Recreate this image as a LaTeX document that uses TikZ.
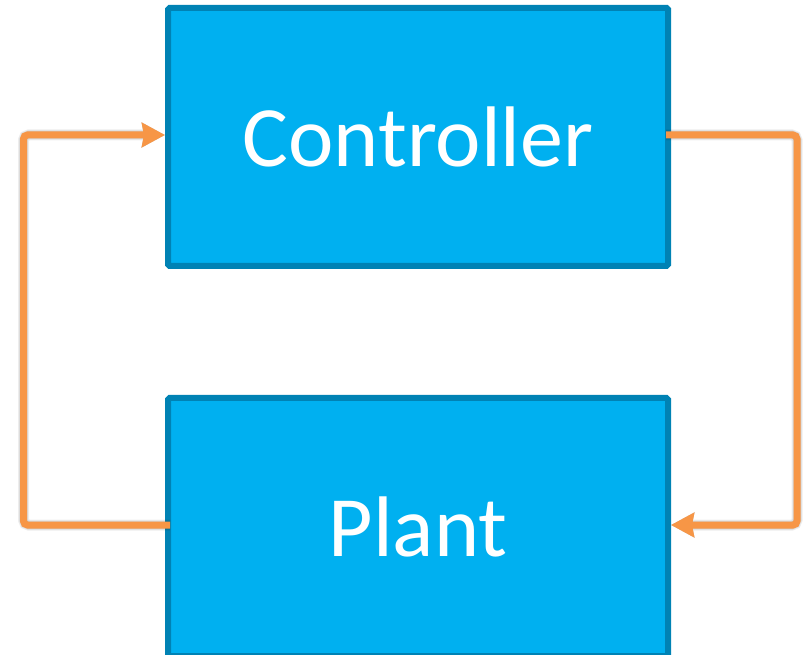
\documentclass[tikz,border=0pt]{standalone}
\usepackage{fontspec}
\setmainfont{Carlito}
\usetikzlibrary{arrows.meta}
\definecolor{boxfill}{HTML}{00B0F0}
\definecolor{boxedge}{HTML}{0082B4}
\definecolor{flowc}{HTML}{F79646}
\tikzset{
  block/.style={draw=boxedge, fill=boxfill, line width=6pt, rounded corners=1.5pt,
    minimum width=500pt, minimum height=258pt, inner sep=0pt,
    text=white, font=\fontsize{86}{90}\selectfont},
  flow/.style={draw=flowc, line width=7pt, rounded corners=4pt,
    -{Stealth[length=23pt,width=24pt,inset=2pt]}},
  flowshadow/.style={draw=black, line width=#1, rounded corners=5pt, opacity=0.07,
    -{Stealth[length=23pt,width=24pt,inset=2pt]}}
}
\begin{document}
\begin{tikzpicture}[x=1pt,y=-1pt]
  \useasboundingbox (0,0) rectangle (807,655);
  \fill[white] (0,0) rectangle (807,655);

  \node[block] (ctrl) at (418,137) {Controller};
  \node[block] (plant) at (418,527) {Plant};

  % soft shadows under the feedback lines
  \begin{scope}[shift={(2,3)}]
    \foreach \w in {7pt,9pt,11pt}{
      \draw[flowshadow=\w] ([xshift=5pt,yshift=2pt]plant.west) -- ++(-146.5,0) |- ([yshift=2pt]ctrl.west);
      \draw[flowshadow=\w] ([xshift=-5pt,yshift=2pt]ctrl.east) -- ++(131,0) |- ([yshift=2pt]plant.east);
    }
  \end{scope}

  % feedback loop
  \draw[flow] ([xshift=5pt,yshift=2pt]plant.west) -- ++(-146.5,0) |- ([yshift=2pt]ctrl.west);
  \draw[flow] ([xshift=-5pt,yshift=2pt]ctrl.east) -- ++(131,0) |- ([yshift=2pt]plant.east);
\end{tikzpicture}
\end{document}
